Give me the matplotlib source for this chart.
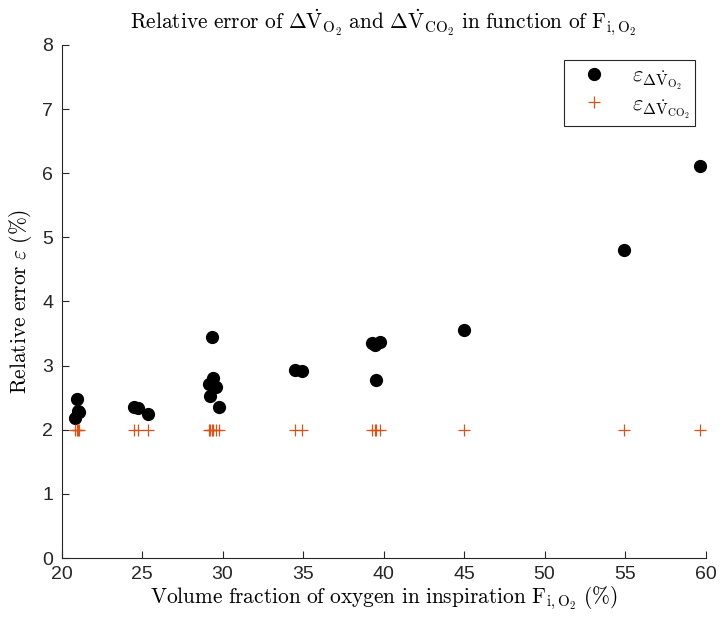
import matplotlib
matplotlib.use("Agg")
import matplotlib.pyplot as plt

# inspired O2 fraction (%) for each measurement
fio2 = [20.84, 20.94, 21.0, 21.1,
        24.5, 24.77, 25.39,
        29.37, 29.43, 29.18, 29.6, 29.22, 29.78,
        34.5, 34.92,
        39.27, 39.47, 39.78, 39.52,
        45.0, 54.93, 59.65]
# relative error on delta VO2 (%)
err_vo2 = [2.19, 2.48, 2.29, 2.27,
           2.36, 2.34, 2.24,
           3.44, 2.80, 2.72, 2.67, 2.53, 2.35,
           2.93, 2.92,
           3.35, 3.32, 3.37, 2.78,
           3.55, 4.81, 6.12]
# relative error on delta VCO2 (%) - constant
err_vco2 = [2.0] * len(fio2)

plt.rcParams['mathtext.fontset'] = 'cm'
plt.rcParams['font.family'] = 'Liberation Sans'

fig = plt.figure(figsize=(7.22, 6.17), dpi=100)
ax = fig.add_axes([0.0852, 0.0956, 0.8920, 0.8315])

ax.plot(fio2, err_vo2, 'o', color='black', markersize=8.5,
        label=r'$\varepsilon_{\Delta\dot{\mathrm{V}}_{\mathrm{O}_2}}$')
ax.plot(fio2, err_vco2, '+', color='#D95319', markersize=9, markeredgewidth=0.9,
        label=r'$\varepsilon_{\Delta\dot{\mathrm{V}}_{\mathrm{CO}_2}}$')

ax.set_xlim(20, 60)
ax.set_ylim(0, 8)
ax.set_xticks(range(20, 61, 5))
ax.set_yticks(range(0, 9))

for side in ['top', 'right']:
    ax.spines[side].set_visible(False)
for side in ['left', 'bottom']:
    ax.spines[side].set_color('#262626')
ax.tick_params(direction='in', length=5, colors='#262626', labelsize=14, pad=6)

ax.set_title(r'$\mathrm{Relative\ error\ of\ }\Delta\dot{\mathrm{V}}_{\mathrm{O}_2}'
             r'\mathrm{\ and\ }\Delta\dot{\mathrm{V}}_{\mathrm{CO}_2}'
             r'\mathrm{\ in\ function\ of\ F}_{\mathrm{i,O}_2}$',
             fontsize=15.4, pad=11)
ax.set_xlabel(r'$\mathrm{Volume\ fraction\ of\ oxygen\ in\ inspiration\ F}_{\mathrm{i,O}_2}\ (\%)$',
              fontsize=15.4, labelpad=1)
ax.set_ylabel(r'$\mathrm{Relative\ error\ }\varepsilon\ (\%)$', fontsize=15.4, labelpad=6)

leg = ax.legend(loc='upper right', bbox_to_anchor=(0.984, 0.971), borderaxespad=0,
                fontsize=16, fancybox=False, framealpha=1, edgecolor='#262626',
                handlelength=2.2, handletextpad=0.6, borderpad=0.25, labelspacing=0.1)
leg.get_frame().set_linewidth(0.8)

fig.savefig('out.png', dpi=100)
